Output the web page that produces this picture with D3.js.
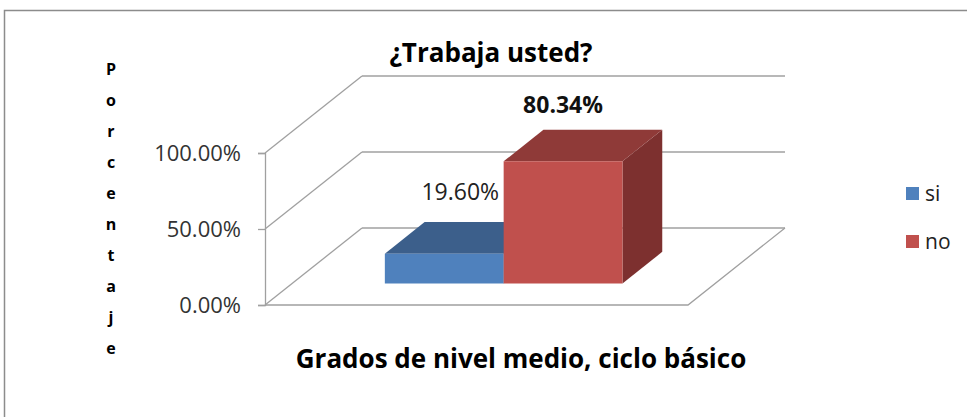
<!DOCTYPE html>
<html>
<head>
<meta charset="utf-8">
<script src="https://cdn.jsdelivr.net/npm/d3@7"></script>
<style>
  body { margin: 0; background: #fff; }
  text { font-family: "Open Sans", Lato, sans-serif; }
</style>
</head>
<body>
<div id="chart-area"></div>
<script>
// data
var categories = ["Grados de nivel medio, ciclo básico"];
var series = ["si", "no"];
var values = [0.196, 0.8034];
var labels = ["19.60%", "80.34%"];
var ticks = [0, 0.5, 1];
var tickLabels = ["0.00%", "50.00%", "100.00%"];
var yTitle = "Porcentaje";
var title = "¿Trabaja usted?";

var width = 967, height = 417;

var svg = d3.select("#chart-area")
	.append("svg")
	.attr("width", width)
	.attr("height", height);

// chart border
svg.append("rect")
	.attr("x", 4.5).attr("y", 10.5)
	.attr("width", 980).attr("height", 430)
	.attr("fill", "none")
	.attr("stroke", "#8c8c8c")
	.attr("stroke-width", 1.5);

// scales
var x = d3.scaleBand()
	.domain(series)
	.range([265, 688])
	.paddingInner(0)
	.paddingOuter(0.78);

var y = d3.scaleLinear()
	.domain([0, 1])
	.range([305, 153]);

// depth offset of the 3d box
var depthX = 97, depthY = -77;
function P(px, v, z) {
	return [px + z * depthX, y(v) + z * depthY];
}
var line = d3.line();

var front = x.range()[0], right = x.range()[1];

var grid = svg.append("g")
	.attr("stroke", "#a0a0a0")
	.attr("stroke-width", 1.3)
	.attr("fill", "none");

ticks.forEach((t) => {
	// back wall
	grid.append("path").attr("d", line([P(front, t, 1), P(right, t, 1)]));
	// side wall
	grid.append("path").attr("d", line([P(front, t, 0), P(front, t, 1)]));
});
// floor
grid.append("path").attr("d", line([P(front, 0, 0), P(right, 0, 0), P(right, 0, 1)]));

// left axis
var yAxisCall = d3.axisLeft(y)
	.tickValues(ticks)
	.tickSize(7)
	.tickPadding(17)
	.tickFormat((d, i) => tickLabels[i]);

var axisG = svg.append("g")
	.attr("transform", "translate(" + front + ",0)")
	.call(yAxisCall);
axisG.select(".domain").attr("stroke", "#a0a0a0").attr("stroke-width", 1.3);
axisG.selectAll(".tick line").attr("stroke", "#a0a0a0").attr("stroke-width", 1.3);
axisG.selectAll(".tick text")
	.attr("font-size", "22px")
	.attr("font-family", "Open Sans")
	.attr("fill", "#333");

// bars
var colors = {
	si: {front: "#4f81bd", top: "#3c5f8b", side: "#2f4b6e"},
	no: {front: "#c0504d", top: "#8f3a38", side: "#7d302f"}
};
var z0 = 0.28, z1 = 0.69;

var bars = svg.append("g");
series.forEach((s, i) => {
	var x0 = x(s), x1 = x(s) + x.bandwidth();
	var v = values[i];
	var c = colors[s];
	// side
	bars.append("path")
		.attr("d", line([P(x1, 0, z0), P(x1, 0, z1), P(x1, v, z1), P(x1, v, z0)]) + "Z")
		.attr("fill", c.side);
	// top
	bars.append("path")
		.attr("d", line([P(x0, v, z0), P(x0, v, z1), P(x1, v, z1), P(x1, v, z0)]) + "Z")
		.attr("fill", c.top);
	// front
	bars.append("path")
		.attr("d", line([P(x0, 0, z0), P(x1, 0, z0), P(x1, v, z0), P(x0, v, z0)]) + "Z")
		.attr("fill", c.front);
});

// data labels
var labelDx = [16, 0];
var labelDy = [-22, -17];
var labelWeight = ["normal", "bold"];
series.forEach((s, i) => {
	var px = P(x(s) + x.bandwidth() / 2, values[i], z0)[0];
	var py = P(0, values[i], z1)[1];
	svg.append("text")
		.attr("x", px + labelDx[i])
		.attr("y", py + labelDy[i])
		.attr("text-anchor", "middle")
		.attr("font-size", "23px")
		.attr("font-weight", labelWeight[i])
		.attr("fill", i == 0 ? "#222" : "#111")
		.text(labels[i]);
});

// title
svg.append("text")
	.attr("x", 491)
	.attr("y", 62)
	.attr("text-anchor", "middle")
	.attr("font-size", "26px")
	.attr("font-weight", "bold")
	.text(title);

// x axis label
svg.append("text")
	.attr("x", 521)
	.attr("y", 368)
	.attr("text-anchor", "middle")
	.attr("font-size", "26px")
	.attr("font-weight", "bold")
	.text(categories[0]);

// y axis label, stacked letters
svg.append("g").selectAll("text")
	.data(yTitle.split(""))
	.enter()
	.append("text")
		.attr("x", 111)
		.attr("y", (d, i) => 75 + i * 31)
		.attr("text-anchor", "middle")
		.attr("font-size", "16px")
		.attr("font-weight", "bold")
		.text((d) => d);

// legend
var legend = svg.append("g");
series.forEach((s, i) => {
	legend.append("rect")
		.attr("x", 906)
		.attr("y", 187 + i * 48)
		.attr("width", 13)
		.attr("height", 13)
		.attr("fill", colors[s].front);
	legend.append("text")
		.attr("x", 925)
		.attr("y", 201 + i * 48)
		.attr("font-size", "21px")
		.attr("fill", "#222")
		.text(s);
});
</script>
</body>
</html>
